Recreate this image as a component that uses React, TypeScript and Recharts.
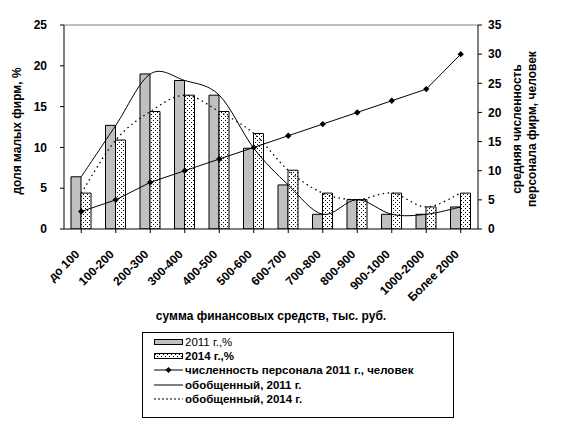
import {
  Bar,
  ComposedChart,
  Label,
  Legend,
  Line,
  ReferenceLine,
  XAxis,
  YAxis,
} from "recharts";

const categories = [
  "до 100",
  "100-200",
  "200-300",
  "300-400",
  "400-500",
  "500-600",
  "600-700",
  "700-800",
  "800-900",
  "900-1000",
  "1000-2000",
  "Более 2000",
];

// доля малых фирм, %
const share2011 = [6.4, 12.7, 19.0, 18.2, 16.4, 9.9, 5.4, 1.8, 3.6, 1.8, 1.8, 2.7];
const share2014 = [4.4, 10.9, 14.4, 16.4, 14.4, 11.7, 7.2, 4.4, 3.6, 4.4, 2.7, 4.4];

// средняя численность персонала, человек
const staff2011 = [3, 5, 8, 10, 12, 14, 16, 18, 20, 22, 24, 30];

const leftTicks = [0, 5, 10, 15, 20, 25];
const rightTicks = [0, 5, 10, 15, 20, 25, 30, 35];

const data = categories.map((name, i) => ({
  name,
  share2011: share2011[i],
  share2014: share2014[i],
  staff2011: staff2011[i],
}));

const FONT = "'Liberation Sans', Arial, sans-serif";

// Excel-like smoothed line (Catmull-Rom through the points)
const excelSmooth = (context: any) => {
  let pts: number[][] = [];
  return {
    areaStart() {},
    areaEnd() {},
    lineStart() {
      pts = [];
    },
    point(x: number, y: number) {
      pts.push([+x, +y]);
    },
    lineEnd() {
      if (!pts.length) return;
      context.moveTo(pts[0][0], pts[0][1]);
      for (let i = 0; i < pts.length - 1; i++) {
        const p0 = pts[Math.max(i - 1, 0)];
        const p1 = pts[i];
        const p2 = pts[i + 1];
        const p3 = pts[Math.min(i + 2, pts.length - 1)];
        context.bezierCurveTo(
          p1[0] + (p2[0] - p0[0]) / 6,
          p1[1] + (p2[1] - p0[1]) / 6,
          p2[0] - (p3[0] - p1[0]) / 6,
          p2[1] - (p3[1] - p1[1]) / 6,
          p2[0],
          p2[1]
        );
      }
    },
  };
};

const Diamond = ({ cx, cy }: any) => {
  if (cx == null || cy == null) return null;
  const r = 3.2;
  return (
    <polygon
      points={`${cx},${cy - r} ${cx + r},${cy} ${cx},${cy + r} ${cx - r},${cy}`}
      fill="#000"
    />
  );
};

const CategoryTick = ({ x, y, payload }: any) => {
  const ax = x - 1;
  const ay = y + 22;
  return (
    <text
      x={ax}
      y={ay}
      transform={`rotate(-45 ${ax} ${ay})`}
      textAnchor="end"
      fontFamily={FONT}
      fontWeight="bold"
      fontSize={12}
      fill="#000"
    >
      {payload.value}
    </text>
  );
};

const tickStyle = { fontFamily: FONT, fontWeight: "bold", fontSize: 12, fill: "#000" };

const LeftTitle = ({ viewBox }: any) => {
  const cx = viewBox.x + 17;
  const cy = viewBox.y + viewBox.height / 2 + 4;
  return (
    <text
      x={cx}
      y={cy}
      transform={`rotate(-90 ${cx} ${cy})`}
      textAnchor="middle"
      dominantBaseline="central"
      fontFamily={FONT}
      fontWeight="bold"
      fontSize={12}
      fill="#000"
    >
      доля малых фирм, %
    </text>
  );
};

const RightTitle = ({ viewBox }: any) => {
  const cy = viewBox.y + viewBox.height / 2 + 2;
  const x1 = viewBox.x + 39;
  const x2 = viewBox.x + 54;
  const common = {
    textAnchor: "middle" as const,
    dominantBaseline: "central" as const,
    fontFamily: FONT,
    fontWeight: "bold",
    fontSize: 12,
    fill: "#000",
  };
  return (
    <g>
      <text x={x1} y={cy} transform={`rotate(-90 ${x1} ${cy})`} {...common}>
        средняя численность
      </text>
      <text x={x2} y={cy} transform={`rotate(-90 ${x2} ${cy})`} {...common}>
        персонала фирм, человек
      </text>
    </g>
  );
};

const BottomTitle = ({ viewBox }: any) => (
  <text
    x={viewBox.x + viewBox.width / 2}
    y={viewBox.y + 87}
    textAnchor="middle"
    dominantBaseline="central"
    fontFamily={FONT}
    fontWeight="bold"
    fontSize={12}
    fill="#000"
  >
    сумма финансовых средств, тыс. руб.
  </text>
);

const legendRows = [
  { label: "2011 г.,%", kind: "grayBar", bold: false },
  { label: "2014 г.,%", kind: "dotBar", bold: true },
  { label: "численность персонала 2011 г., человек", kind: "marker", bold: true },
  { label: "обобщенный, 2011 г.", kind: "solid", bold: true },
  { label: "обобщенный, 2014 г.", kind: "dotted", bold: true },
];

const LegendSample = ({ kind }: { kind: string }) => (
  <svg width={30} height={12} style={{ display: "block" }}>
    {kind === "grayBar" && <rect x={0.5} y={3.5} width={28} height={5} fill="#c0c0c0" stroke="#000" />}
    {kind === "dotBar" && <rect x={0.5} y={3.5} width={28} height={5} fill="url(#dots)" stroke="#000" />}
    {kind !== "grayBar" && kind !== "dotBar" && (
      <line
        x1={0}
        x2={29}
        y1={6}
        y2={6}
        stroke="#000"
        strokeWidth={1}
        strokeDasharray={kind === "dotted" ? "2 2" : undefined}
      />
    )}
    {kind === "marker" && <polygon points="14.5,3 17.5,6 14.5,9 11.5,6" fill="#000" />}
  </svg>
);

const LegendBox = () => (
  <div
    style={{
      border: "1px solid #000",
      boxSizing: "border-box",
      width: 312,
      height: 86,
      padding: "2px 0 0 11px",
      background: "#fff",
    }}
  >
    {legendRows.map((row) => (
      <div
        key={row.label}
        style={{ display: "flex", alignItems: "center", height: 14.2, lineHeight: "14px" }}
      >
        <LegendSample kind={row.kind} />
        <span
          style={{
            fontFamily: FONT,
            fontSize: 11.5,
            fontWeight: row.bold ? "bold" : "normal",
            marginLeft: 1,
            color: "#000",
            whiteSpace: "nowrap",
          }}
        >
          {row.label}
        </span>
      </div>
    ))}
  </div>
);

export default function App() {
  return (
    <div style={{ position: "absolute", left: 0, top: 0, width: 561, height: 431, background: "#fff" }}>
      <svg width={0} height={0} style={{ position: "absolute" }}>
        <defs>
          <pattern id="dots" width={4} height={4} patternUnits="userSpaceOnUse">
            <rect width={4} height={4} fill="#fff" />
            <rect x={1} y={0} width={1} height={1} fill="#000" />
            <rect x={3} y={2} width={1} height={1} fill="#000" />
          </pattern>
        </defs>
      </svg>
      <ComposedChart
        width={561}
        height={431}
        data={data}
        margin={{ top: 25, right: 0, bottom: 0, left: 0 }}
        barGap={0}
      >
        <XAxis
          dataKey="name"
          height={202}
          interval={0}
          tick={<CategoryTick />}
          tickSize={4}
          tickMargin={0}
          stroke="#000"
        >
          <Label content={<BottomTitle />} />
        </XAxis>
        <YAxis
          yAxisId="left"
          width={64}
          domain={[0, 25]}
          ticks={leftTicks}
          tick={tickStyle}
          tickSize={4}
          tickMargin={13}
          stroke="#000"
          allowDataOverflow
        >
          <Label content={<LeftTitle />} />
        </YAxis>
        <YAxis
          yAxisId="right"
          orientation="right"
          width={83}
          domain={[0, 35]}
          ticks={rightTicks}
          tick={tickStyle}
          tickSize={4}
          tickMargin={6}
          stroke="#000"
          allowDataOverflow
        >
          <Label content={<RightTitle />} />
        </YAxis>
        <ReferenceLine yAxisId="left" y={25} stroke="#808080" />
        <Bar
          yAxisId="left"
          dataKey="share2011"
          barSize={10}
          fill="#c0c0c0"
          stroke="#000"
          strokeWidth={1}
          isAnimationActive={false}
        />
        <Bar
          yAxisId="left"
          dataKey="share2014"
          barSize={10}
          fill="url(#dots)"
          stroke="#000"
          strokeWidth={1}
          isAnimationActive={false}
        />
        <Line
          yAxisId="left"
          dataKey="share2011"
          type={excelSmooth as any}
          stroke="#000"
          strokeWidth={1}
          dot={false}
          activeDot={false}
          isAnimationActive={false}
        />
        <Line
          yAxisId="left"
          dataKey="share2014"
          type={excelSmooth as any}
          stroke="#000"
          strokeWidth={1.3}
          strokeDasharray="1.5 3.5"
          dot={false}
          activeDot={false}
          isAnimationActive={false}
        />
        <Line
          yAxisId="right"
          dataKey="staff2011"
          type="linear"
          stroke="#000"
          strokeWidth={1}
          dot={<Diamond />}
          activeDot={false}
          isAnimationActive={false}
        />
        <Legend
          layout="vertical"
          align="center"
          verticalAlign="middle"
          content={<LegendBox />}
          wrapperStyle={{ left: 142, top: 332, width: 312, height: 86 }}
        />
      </ComposedChart>
    </div>
  );
}
